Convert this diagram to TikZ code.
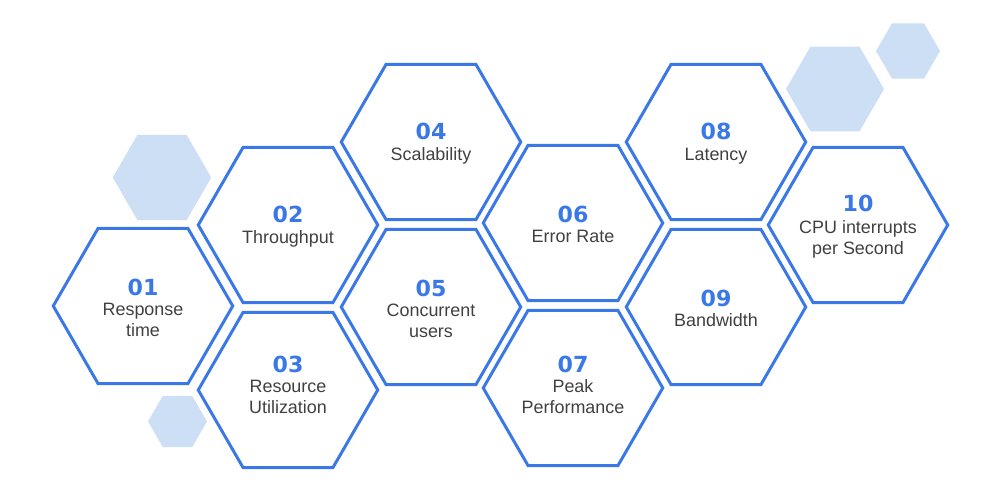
\documentclass[tikz,border=0pt]{standalone}
\usepackage{fontspec}
\setmainfont{Liberation Sans}
\newfontfamily\numfont{DejaVu Sans}
\usetikzlibrary{shapes.geometric}
\definecolor{hexblue}{HTML}{3B78E7}
\definecolor{hexlight}{HTML}{CCDFF5}
\definecolor{hextext}{HTML}{404040}
\newcommand{\hexnum}[2][-0.5pt]{{\numfont\fontsize{12.6}{14}\selectfont\bfseries\color{hexblue}\rule{0pt}{11.3pt}#2}\\[#1]}
\newcommand{\hexup}[1]{\rule[-#1]{0pt}{0pt}}

\begin{document}
\begin{tikzpicture}

\tikzset{vertex/.style = {shape=regular polygon,regular polygon sides=6,draw=hexblue,line width=1.7pt,minimum size=3.59cm,inner sep=0pt,align=center,text=hextext,font=\fontsize{10.2}{12}\selectfont}}
\tikzset{deco/.style = {shape=regular polygon,regular polygon sides=6,fill=hexlight,inner sep=0pt}}
\useasboundingbox (0,0) rectangle (20,10);
% background hexagons
\node[deco, minimum size=1.97cm] (a) at (3.24,6.45) {};
\node[deco, minimum size=1.18cm] (b) at (3.55,1.57) {};
\node[deco, minimum size=1.96cm] (c) at (16.70,8.22) {};
\node[deco, minimum size=1.28cm] (d) at (18.16,8.98) {};
% vertices
\node[vertex] (1) at (2.86,3.88) {\hexnum{01}Response\\time};
\node[vertex] (2) at (5.76,5.50) {\hexnum{02}Throughput};
\node[vertex] (3) at (5.76,2.20) {\hexnum{03}Resource\\Utilization\hexup{7.5pt}};
\node[vertex] (4) at (8.62,7.16) {\hexnum{04}Scalability};
\node[vertex] (5) at (8.62,3.86) {\hexnum{05}Concurrent\\users};
\node[vertex] (6) at (11.46,5.54) {\hexnum{06}Error Rate};
\node[vertex] (7) at (11.46,2.24) {\hexnum{07}Peak\\Performance\hexup{5.7pt}};
\node[vertex] (8) at (14.32,7.16) {\hexnum{08}Latency};
\node[vertex] (9) at (14.32,3.86) {\hexnum{09}Bandwidth};
\node[vertex] (10) at (17.16,5.50) {\hexnum[0.5pt]{10}\makebox[2cm]{CPU interrupts}\\per Second};

\end{tikzpicture}
\end{document}
